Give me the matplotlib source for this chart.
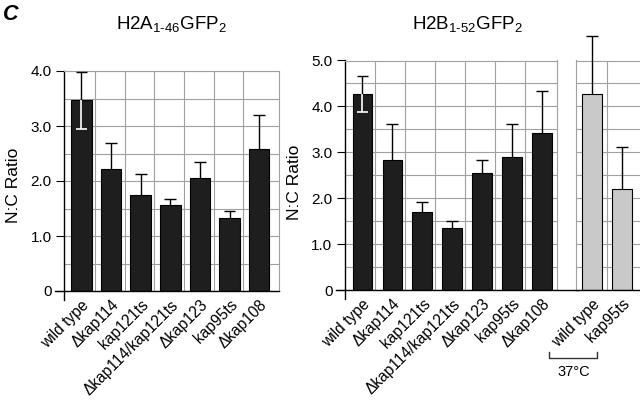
import numpy as np
import matplotlib
matplotlib.use("Agg")
import matplotlib.pyplot as plt
from matplotlib.lines import Line2D
from matplotlib.transforms import ScaledTranslation

plt.rcParams['font.family'] = ['Liberation Sans', 'DejaVu Sans']
plt.rcParams['mathtext.fontset'] = 'custom'
plt.rcParams['mathtext.rm'] = 'Liberation Sans'
plt.rcParams['mathtext.default'] = 'regular'

# data
strains = ["wild type", "\u0394kap114", "kap121ts", "\u0394kap114/kap121ts",
           "\u0394kap123", "kap95ts", "\u0394kap108"]
h2a_vals = [3.47, 2.22, 1.75, 1.57, 2.05, 1.32, 2.58]
h2a_err = [0.52, 0.47, 0.37, 0.11, 0.29, 0.13, 0.62]
h2b_vals = [4.27, 2.83, 1.70, 1.36, 2.54, 2.89, 3.43]
h2b_err = [0.40, 0.79, 0.22, 0.14, 0.29, 0.73, 0.90]
hot_strains = ["wild type", "kap95ts"]
hot_vals = [4.27, 2.21]
hot_err = [1.27, 0.91]

W, H = 640, 404
DARK = "#1e1e1e"
LIGHT = "#c9c9c9"
GRID = "#a0a0a0"

fig = plt.figure(figsize=(W / 100, H / 100), dpi=100)
label_shift = ScaledTranslation(8 / 100, 0, fig.dpi_scale_trans)


def px_axes(x0, x1, ytop, ybot):
    return fig.add_axes([x0 / W, (H - ybot) / H, (x1 - x0) / W, (ybot - ytop) / H])


def panel(ax, labels, vals, err, color, xlim, ymax, shift, width, capw, white_first=True):
    x = np.arange(len(vals))
    ax.set_xlim(*xlim)
    ax.set_ylim(0, ymax)
    ax.bar(x, vals, width=width, color=color, edgecolor="black", linewidth=0.8, zorder=2)
    vals = np.array(vals)
    err = np.array(err)
    ax.vlines(x, vals, vals + err, color="black", linewidth=1.0, zorder=3, clip_on=False)
    ax.hlines(vals + err, x - capw, x + capw, color="black", linewidth=1.0, zorder=3, clip_on=False)
    if white_first:
        ax.vlines(x[0], vals[0] - err[0], vals[0], color="white", linewidth=1.2, zorder=3)
        ax.hlines(vals[0] - err[0], x[0] - capw, x[0] + capw, color="white", linewidth=1.2, zorder=3)
    ax.set_xticks(x)
    ax.set_xticklabels(labels, rotation=45, ha="right", va="top", rotation_mode="anchor", fontsize=11.2)
    for lab in ax.get_xticklabels():
        lab.set_transform(lab.get_transform() + label_shift)
    ax.set_xticks(x[:-1] + 0.5 - shift, minor=True)
    ax.tick_params(axis="x", which="both", length=0, pad=4.5)
    major = np.arange(0, ymax + 0.01, 1.0)
    ax.set_yticks(major)
    ax.set_yticklabels(["0"] + ["%.1f" % v for v in major[1:]])
    ax.set_yticks(np.arange(0.5, ymax, 1.0), minor=True)
    ax.tick_params(axis="y", which="minor", length=0)
    ax.tick_params(axis="y", which="major", length=6, width=0.8, labelsize=11, pad=3)
    ax.grid(axis="y", which="both", color=GRID, linewidth=0.8, zorder=0)
    ax.grid(axis="x", which="minor", color=GRID, linewidth=0.8, zorder=0)
    ax.grid(axis="x", which="major", visible=False)
    ax.set_axisbelow(True)
    for s in ("top", "right"):
        ax.spines[s].set_color(GRID)
        ax.spines[s].set_linewidth(0.8)
    ax.spines["left"].set_linewidth(1.0)
    ax.spines["bottom"].set_linewidth(1.0)
    ax.set_ylabel("N:C Ratio", fontsize=12.5)
    return x


# left panel
ax1 = px_axes(64, 279, 71, 291)
panel(ax1, strains, h2a_vals, h2a_err, DARK, (-0.59, 6.67), 4.0, 0.04, 0.69, 0.2)
ax1.spines["left"].set_bounds(-0.16, 4.0)
ax1.spines["bottom"].set_bounds(-0.59 - 0.3, 6.67)
ax1.yaxis.set_label_coords(-0.2, 0.48)
fig.text(171 / W, 1 - 24 / H, r"H2A$_{1\text{-}46}$GFP$_2$", fontsize=13.5, ha="center", va="center")

# right panel
ax2 = px_axes(345, 557, 60.5, 290)
panel(ax2, strains, h2b_vals, h2b_err, DARK, (-0.585, 6.505), 5.0, 0.07, 0.66, 0.2)
ax2.spines["left"].set_bounds(-0.19, 5.0)
ax2.spines["bottom"].set_bounds(-0.585 - 0.3, 7.2)
ax2.yaxis.set_label_coords(-0.205, 0.47)

# 37C group
ax3 = px_axes(576, 640, 60.5, 290)
panel(ax3, hot_strains, hot_vals, hot_err, LIGHT, (-0.533, 1.6), 5.0, 0.0, 0.67, 0.2, white_first=False)
ax3.set_ylabel("")
ax3.tick_params(axis="y", which="both", left=False, labelleft=False)
ax3.spines["left"].set_color(GRID)
ax3.spines["left"].set_linewidth(0.8)
ax3.spines["right"].set_visible(False)

fig.text(467 / W, 1 - 24 / H, r"H2B$_{1\text{-}52}$GFP$_2$", fontsize=13.5, ha="center", va="center")
fig.text(3 / W, 1 - 14 / H, "C", fontsize=15.5, fontweight="bold", fontstyle="italic",
         ha="left", va="center")

# 37C bracket under the heat-shifted strains
bx0, bx1, by0, by1 = 548.5 / W, 596.5 / W, 1 - 351.5 / H, 1 - 357.5 / H
fig.add_artist(Line2D([bx0, bx0, bx1, bx1], [by0, by1, by1, by0], color="#333333",
                      linewidth=1.0, transform=fig.transFigure))
fig.text(574 / W, 1 - 372 / H, "37\u00b0C", fontsize=10.5, ha="center", va="center")

fig.savefig("out.png", dpi=100)
